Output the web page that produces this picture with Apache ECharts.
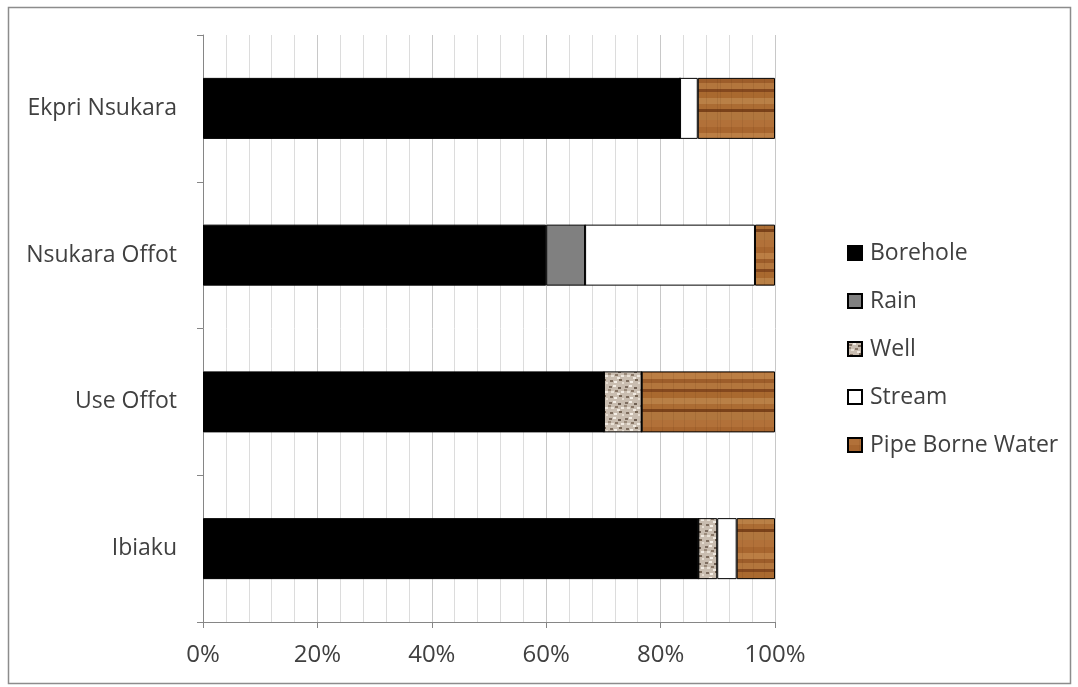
<!DOCTYPE html>
<html>
<head>
<meta charset="utf-8">
<script src="https://cdn.jsdelivr.net/npm/echarts@6/dist/echarts.min.js"></script>
<style>
  html, body { margin: 0; padding: 0; background: #fff; }
  #chart { width: 1078px; height: 687px; }
</style>
</head>
<body>
<div id="chart"></div>
<script>
// Villages (bottom to top on the category axis)
const villages = ['Ibiaku', 'Use Offot', 'Nsukara Offot', 'Ekpri Nsukara'];

// Share of households by water source, in percent
const borehole = [86.6, 70.1, 60.0, 83.4];
const rain     = [0,    0,    6.8,  0];
const well     = [3.3,  6.6,  0,    0];
const stream   = [3.4,  0,    29.7, 3.1];
const pipe     = [6.7,  23.3, 3.5,  13.5];

const xTicks = ['0%', '20%', '40%', '60%', '80%', '100%'];

// Speckled stone texture for wells
function wellTexture() {
  const c = document.createElement('canvas');
  c.width = 16; c.height = 16;
  const g = c.getContext('2d');
  g.fillStyle = '#c9bdb0';
  g.fillRect(0, 0, 16, 16);
  const dots = [[1,2,'#7d6d60'],[5,1,'#f2ece4'],[10,3,'#6f5f52'],[13,7,'#efe8df'],
                [3,7,'#e9e1d6'],[7,6,'#8a7868'],[2,12,'#7f6e5f'],[6,13,'#f4eee6'],
                [11,11,'#786756'],[14,14,'#e6ddd2'],[0,5,'#9a8a7a'],[9,9,'#f0e9e0']];
  dots.forEach(([x, y, col]) => { g.fillStyle = col; g.fillRect(x, y, 3, 2); });
  return c;
}

// Wood grain texture for piped water
function woodTexture() {
  const c = document.createElement('canvas');
  c.width = 80; c.height = 60;
  const g = c.getContext('2d');
  const bands = [
    ['#b27139', 7], ['#a8662f', 6], ['#bb7e44', 6], ['#9d5d2a', 4], ['#b3763d', 6],
    ['#84481e', 3], ['#a9692f', 6], ['#b98046', 6], ['#ab6c33', 5], ['#7a421a', 3],
    ['#b0763e', 8]
  ];
  let y = 0;
  bands.forEach(([col, h]) => { g.fillStyle = col; g.fillRect(0, y, 80, h); y += h; });
  g.globalAlpha = 0.12;
  g.fillStyle = '#5a2e10';
  for (let i = 0; i < 80; i += 11) g.fillRect(i, 0, 1, 60);
  g.globalAlpha = 1;
  return c;
}

const fills = {
  borehole: '#000000',
  rain: '#808080',
  well: { image: wellTexture(), repeat: 'repeat' },
  stream: '#ffffff',
  pipe: { image: woodTexture(), repeat: 'repeat' }
};

const seriesDefs = [
  ['Borehole', borehole, fills.borehole],
  ['Rain', rain, fills.rain],
  ['Well', well, fills.well],
  ['Stream', stream, fills.stream],
  ['Pipe Borne Water', pipe, fills.pipe]
];

const chart = echarts.init(document.getElementById('chart'), null, { renderer: 'canvas' });

const font = '"Open Sans", Lato, sans-serif';

chart.setOption({
  animation: false,
  backgroundColor: '#ffffff',
  graphic: [{
    type: 'rect',
    shape: { x: 8.5, y: 7.5, width: 1062, height: 676 },
    style: { fill: 'none', stroke: '#8c8c8c', lineWidth: 1.5 },
    silent: true
  }],
  grid: { left: 203, right: 303, top: 35, bottom: 65, containLabel: false },
  legend: {
    orient: 'vertical',
    left: 842,
    top: 236,
    itemWidth: 14,
    itemHeight: 14,
    itemGap: 24,
    icon: 'rect',
    textStyle: { fontFamily: font, fontSize: 23, color: '#404040', padding: [0, 0, 0, 3], lineHeight: 24 },
    data: seriesDefs.map(d => d[0])
  },
  xAxis: {
    type: 'value',
    min: 0,
    max: 100,
    interval: 20,
    axisLine: { show: true, lineStyle: { color: '#868686', width: 1 } },
    axisTick: { show: true, length: 6, lineStyle: { color: '#868686' } },
    axisLabel: {
      fontFamily: font, fontSize: 24, color: '#404040', margin: 21,
      formatter: v => xTicks[Math.round(v / 20)]
    },
    splitLine: { show: true, lineStyle: { color: '#c8c8c8', width: 1 } },
    minorTick: { show: false, splitNumber: 5 },
    minorSplitLine: { show: true, lineStyle: { color: '#dcdcdc', width: 1 } }
  },
  yAxis: {
    type: 'category',
    data: villages,
    axisLine: { show: true, lineStyle: { color: '#868686', width: 1 } },
    axisTick: { show: true, length: 6, lineStyle: { color: '#868686' } },
    axisLabel: { fontFamily: font, fontSize: 23, color: '#404040', margin: 26 },
    splitLine: { show: false }
  },
  series: seriesDefs.map(([name, values, color]) => ({
    name,
    type: 'bar',
    stack: 'total',
    barWidth: 61,
    data: values,
    itemStyle: { color, borderColor: '#000000', borderWidth: 1 },
    emphasis: { disabled: true }
  }))
});
</script>
</body>
</html>
